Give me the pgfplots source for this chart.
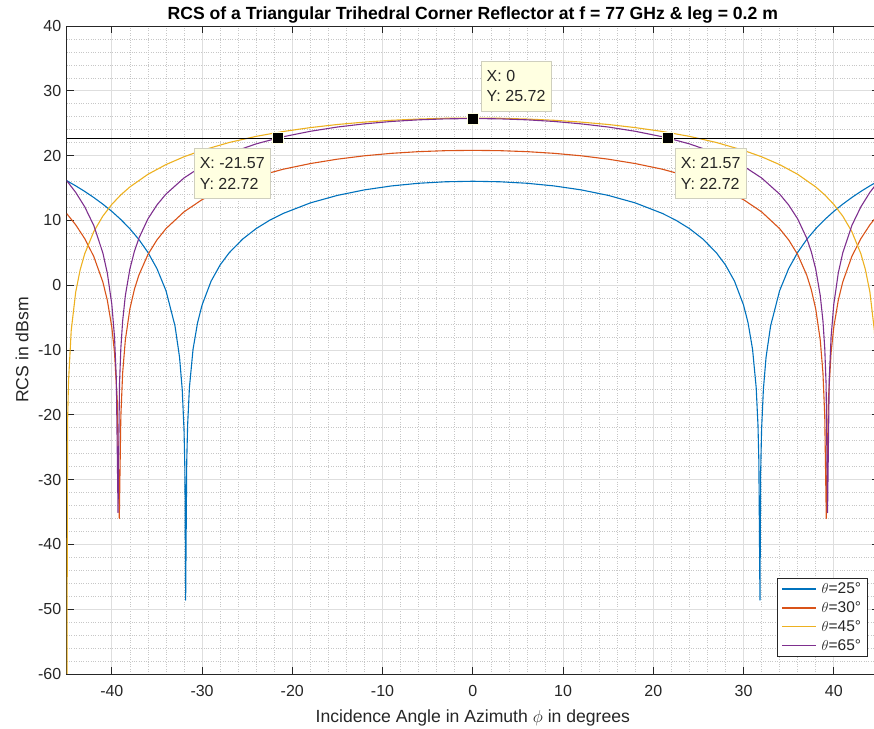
\documentclass[border=0pt]{standalone}
\usepackage{fontspec}
\setmainfont{Liberation Sans}
\usepackage{pgfplots}
\pgfplotsset{compat=1.18}
\definecolor{mblue}{HTML}{0072BD}
\definecolor{morange}{HTML}{D95319}
\definecolor{myellow}{HTML}{EDB120}
\definecolor{mpurple}{HTML}{7E2F8E}
\definecolor{axgray}{HTML}{262626}
\definecolor{tipbg}{HTML}{FFFFE1}
\definecolor{tipborder}{HTML}{CFCFBE}
\begin{document}
\begin{tikzpicture}
\begin{axis}[
  scale only axis, width=812.2pt, height=648pt,
  xmin=-45, xmax=45, ymin=-60, ymax=40,
  xtick={-40,-30,...,40}, ytick={-60,-50,...,40},
  minor tick num=4,
  grid=both,
  major grid style={draw=black!13, line width=0.7pt},
  minor grid style={draw=black!22, dotted, line width=0.6pt},
  minor tick length=0pt,
  major tick length=7pt,
  tick align=inside,
  axis line style={draw=axgray, line width=0.8pt},
  every tick/.style={draw=axgray, line width=0.8pt},
  ticklabel style={font=\fontsize{16}{19}\selectfont, text=axgray},
  xticklabel style={yshift=-8pt},
  yticklabel style={xshift=-2pt},
  /pgf/number format/assume math mode=true,
  every axis title shift=0pt,
  title={\bfseries RCS of a Triangular Trihedral Corner Reflector at f = 77 GHz \& leg = 0.2 m},
  title style={font=\fontsize{17.6}{20}\selectfont, text=black, at={(0.5,1)}, anchor=base, yshift=6pt},
  xlabel={Incidence Angle in Azimuth $\phi$ in degrees},
  ylabel={RCS in dBsm},
  xlabel style={font=\fontsize{17.6}{20}\selectfont, text=axgray, at={(0.5,0)}, anchor=base, yshift=-49pt},
  ylabel style={font=\fontsize{17.6}{20}\selectfont, text=axgray, at={(0,0.5)}, anchor=center, yshift=44.7pt},
  legend style={at={(1,0)}, anchor=south east, xshift=-11pt, yshift=17pt,
    draw=axgray, line width=0.6pt, fill=white,
    font=\fontsize{15.5}{17}\selectfont, text=axgray,
    inner xsep=4.5pt, inner ysep=3pt, row sep=2.5pt},
  legend cell align=left,
  legend image code/.code={\draw[#1, line width=1.5pt] (0pt,0pt) -- (34pt,0pt); \path (37pt,0pt);},
]
\addplot[mblue, line width=1.1pt, line join=round] coordinates {
(-45,16.13) (-44,15.33) (-43,14.47) (-42,13.53) (-41,12.51) (-40,11.39) (-39,10.13) (-38,8.71) (-37,7.05) (-36,5.06) (-35,2.56) (-34,-0.84) (-33,-6.28) (-32.5,-11.07) (-32.2,-16.05) (-32,-22.29) (-31.9,-28.7) (-31.82,-48.6) (-31.7,-27.27) (-31.6,-21.58) (-31.4,-15.77) (-31,-9.89) (-30.5,-5.80) (-30,-3.06) (-29,0.62) (-28,3.12) (-27,4.99) (-25.5,7.12) (-24,8.74) (-22.5,10.03) (-21,11.08) (-18,12.70) (-15,13.86) (-12,14.71) (-9,15.32) (-6,15.73) (-3,15.96) (0,16.04)
(3,15.96) (6,15.73) (9,15.32) (12,14.71) (15,13.86) (18,12.70) (21,11.08) (22.5,10.03) (24,8.74) (25.5,7.12) (27,4.99) (28,3.12) (29,0.62) (30,-3.06) (30.5,-5.80) (31,-9.89) (31.4,-15.77) (31.6,-21.58) (31.7,-27.27) (31.82,-48.6) (31.9,-28.7) (32,-22.29) (32.2,-16.05) (32.5,-11.07) (33,-6.28) (34,-0.84) (35,2.56) (36,5.06) (37,7.05) (38,8.71) (39,10.13) (40,11.39) (41,12.51) (42,13.53) (43,14.47) (44,15.33) (45,16.13)
};
\addlegendentry{$\theta$=25°}
\addplot[morange, line width=1.1pt, line join=round] coordinates {
(-45,11.05) (-44,9.31) (-43,7.18) (-42,4.43) (-41,0.52) (-40.5,-2.31) (-40,-6.48) (-39.7,-10.42) (-39.4,-17.80) (-39.17,-36.0) (-39,-20.22) (-38.8,-13.54) (-38.5,-8.45) (-38,-3.67) (-37.5,-0.65) (-37,1.56) (-36,4.73) (-35,6.99) (-34,8.73) (-32,11.32) (-30,13.20) (-27,15.26) (-24,16.76) (-21,17.90) (-18,18.77) (-15,19.45) (-12,19.97) (-9,20.35) (-6,20.61) (-3,20.76) (0,20.81)
(3,20.76) (6,20.61) (9,20.35) (12,19.97) (15,19.45) (18,18.77) (21,17.90) (24,16.76) (27,15.26) (30,13.20) (32,11.32) (34,8.73) (35,6.99) (36,4.73) (37,1.56) (37.5,-0.65) (38,-3.67) (38.5,-8.45) (38.8,-13.54) (39,-20.22) (39.17,-36.0) (39.4,-17.80) (39.7,-10.42) (40,-6.48) (40.5,-2.31) (41,0.52) (42,4.43) (43,7.18) (44,9.31) (45,11.05)
};
\addlegendentry{$\theta$=30°}
\addplot[myellow, line width=1.1pt, line join=round] coordinates {
(-45,-75) (-44.9,-20.93) (-44.8,-14.89) (-44.5,-7.00) (-44,-1.04) (-43.5,2.42) (-43,4.86) (-42,8.27) (-41,10.65) (-40,12.47) (-39,13.94) (-38,15.16) (-36,17.11) (-34,18.61) (-32,19.82) (-30,20.81) (-27,22.02) (-24,22.97) (-21,23.72) (-18,24.32) (-15,24.80) (-12,25.17) (-9,25.45) (-6,25.64) (-3,25.76) (0,25.80)
(3,25.76) (6,25.64) (9,25.45) (12,25.17) (15,24.80) (18,24.32) (21,23.72) (24,22.97) (27,22.02) (30,20.81) (32,19.82) (34,18.61) (36,17.11) (38,15.16) (39,13.94) (40,12.47) (41,10.65) (42,8.27) (43,4.86) (43.5,2.42) (44,-1.04) (44.5,-7.00) (44.8,-14.89) (44.9,-20.93) (45,-75)
};
\addlegendentry{$\theta$=45°}
\addplot[mpurple, line width=1.1pt, line join=round] coordinates {
(-45,16.13) (-44,14.32) (-43,12.09) (-42,9.21) (-41,5.02) (-40.5,1.88) (-40,-2.95) (-39.7,-8.03) (-39.5,-14.44) (-39.31,-35.1) (-39.15,-15.32) (-39,-9.73) (-38.8,-5.52) (-38.5,-1.59) (-38,2.48) (-37.5,5.21) (-37,7.25) (-36,10.23) (-35,12.38) (-34,14.06) (-32,16.55) (-30,18.37) (-27,20.36) (-24,21.81) (-21.57,22.72) (-21,22.91) (-18,23.75) (-15,24.41) (-12,24.90) (-9,25.27) (-6,25.52) (-3,25.67) (0,25.72)
(3,25.67) (6,25.52) (9,25.27) (12,24.90) (15,24.41) (18,23.75) (21,22.91) (21.57,22.72) (24,21.81) (27,20.36) (30,18.37) (32,16.55) (34,14.06) (35,12.38) (36,10.23) (37,7.25) (37.5,5.21) (38,2.48) (38.5,-1.59) (38.8,-5.52) (39,-9.73) (39.15,-15.32) (39.31,-35.1) (39.5,-14.44) (39.7,-8.03) (40,-2.95) (40.5,1.88) (41,5.02) (42,9.21) (43,12.09) (44,14.32) (45,16.13)
};
\addlegendentry{$\theta$=65°}
\addplot[black, line width=0.9pt, forget plot] coordinates {(-45,22.72) (45,22.72)};
\addplot[only marks, mark=square*, mark size=5.5pt, mark options={fill=black, draw=tipbg, line width=0.6pt}, forget plot] coordinates {(-21.57,22.72) (0,25.72) (21.57,22.72)};
\node[draw=tipborder, fill=tipbg, line width=0.8pt, align=left, font=\fontsize{16}{20.6}\selectfont, text=axgray, inner xsep=5.5pt, inner ysep=9pt, anchor=north east, xshift=-7.5pt, yshift=-10pt] at (axis cs:-21.57,22.72) {X: -21.57\\Y: 22.72};
\node[draw=tipborder, fill=tipbg, line width=0.8pt, align=left, font=\fontsize{16}{20.6}\selectfont, text=axgray, inner xsep=5.5pt, inner ysep=9pt, anchor=south west, xshift=8pt, yshift=7pt] at (axis cs:0,25.72) {X: 0\\Y: 25.72};
\node[draw=tipborder, fill=tipbg, line width=0.8pt, align=left, font=\fontsize{16}{20.6}\selectfont, text=axgray, inner xsep=5.5pt, inner ysep=9pt, anchor=north west, xshift=7.5pt, yshift=-10pt] at (axis cs:21.57,22.72) {X: 21.57\\Y: 22.72};
\end{axis}
\pgfresetboundingbox
\path ([xshift=-66.7pt,yshift=-55pt]current axis.south west) rectangle ([xshift=-4.9pt,yshift=26pt]current axis.north east);
\end{tikzpicture}
\end{document}
